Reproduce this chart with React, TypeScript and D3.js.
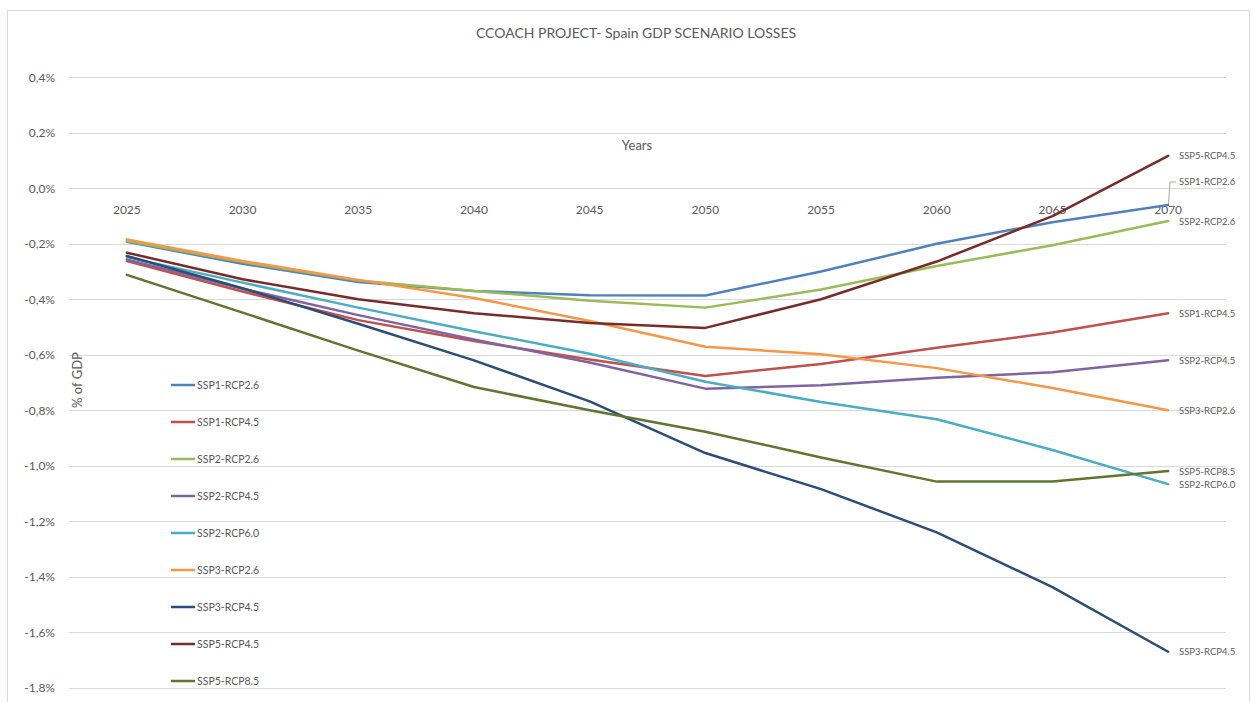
import React from "react";
import * as d3 from "d3";

const years = [2025, 2030, 2035, 2040, 2045, 2050, 2055, 2060, 2065, 2070];
const yTicks = [0.4, 0.2, 0.0, -0.2, -0.4, -0.6, -0.8, -1.0, -1.2, -1.4, -1.6, -1.8];

const seriesNames = [
  "SSP1-RCP2.6",
  "SSP1-RCP4.5",
  "SSP2-RCP2.6",
  "SSP2-RCP4.5",
  "SSP2-RCP6.0",
  "SSP3-RCP2.6",
  "SSP3-RCP4.5",
  "SSP5-RCP4.5",
  "SSP5-RCP8.5",
];

const ssp1rcp26 = [-0.193, -0.272, -0.338, -0.37, -0.385, -0.386, -0.3, -0.2, -0.122, -0.06];
const ssp1rcp45 = [-0.262, -0.372, -0.475, -0.55, -0.617, -0.676, -0.633, -0.575, -0.52, -0.45];
const ssp2rcp26 = [-0.19, -0.266, -0.332, -0.37, -0.405, -0.43, -0.365, -0.28, -0.205, -0.118];
const ssp2rcp45 = [-0.256, -0.362, -0.457, -0.545, -0.628, -0.722, -0.71, -0.683, -0.663, -0.62];
const ssp2rcp60 = [-0.248, -0.34, -0.43, -0.515, -0.596, -0.697, -0.77, -0.832, -0.943, -1.066];
const ssp3rcp26 = [-0.184, -0.262, -0.33, -0.395, -0.478, -0.571, -0.598, -0.648, -0.72, -0.8];
const ssp3rcp45 = [-0.244, -0.36, -0.488, -0.62, -0.768, -0.954, -1.084, -1.24, -1.437, -1.67];
const ssp5rcp45 = [-0.232, -0.328, -0.4, -0.45, -0.485, -0.503, -0.4, -0.264, -0.1, 0.117];
const ssp5rcp85 = [-0.312, -0.448, -0.585, -0.716, -0.8, -0.877, -0.97, -1.057, -1.057, -1.019];

const seriesValues = [
  ssp1rcp26, ssp1rcp45, ssp2rcp26, ssp2rcp45, ssp2rcp60,
  ssp3rcp26, ssp3rcp45, ssp5rcp45, ssp5rcp85,
];

const colors = [
  "#4F81BD", "#C0504D", "#9BBB59", "#8064A2", "#4BACC6",
  "#F79646", "#2C4D75", "#772C2A", "#5F7530",
];

// label vertical offsets (px) for end labels
const labelDy = [-23, 0, 0, 0, 0, 0, 0, 0, 0];

const W = 1253;
const H = 702;
const TEXT = "#595959";
const FONT = "Lato, 'Open Sans', sans-serif";

export default function App() {
  const x = d3.scalePoint<number>().domain(years).range([69, 1226]).padding(0.5);
  const y = d3.scaleLinear().domain([-1.8, 0.4]).range([687.8, 77.3]);
  const line = d3
    .line<number>()
    .x((_, i) => x(years[i]) as number)
    .y((d) => y(d));
  const fmt = (v: number) => {
    const s = Math.abs(v).toFixed(1).replace(".", ",");
    return (v < -0.0001 ? "-" : "") + s + "%";
  };
  const lastX = x(years[years.length - 1]) as number;

  return (
    <svg
      width={W}
      height={H}
      style={{ position: "absolute", left: 0, top: 0, background: "#fff" }}
      fontFamily={FONT}
    >
      <rect x={7.5} y={10.5} width={1242} height={700} fill="#fff" stroke="#D9D9D9" strokeWidth={1} />
      <text x={636} y={32} textAnchor="middle" dominantBaseline="central" fontSize={14} fill={TEXT}>
        CCOACH PROJECT- Spain GDP SCENARIO LOSSES
      </text>
      {yTicks.map((t) => (
        <g key={t}>
          <line x1={69} x2={1226} y1={Math.round(y(t)) + 0.5} y2={Math.round(y(t)) + 0.5} stroke="#D9D9D9" strokeWidth={1} />
          <text x={55} y={y(t)} textAnchor="end" dominantBaseline="central" fontSize={12} fill={TEXT}>
            {fmt(t)}
          </text>
        </g>
      ))}
      {years.map((yr) => (
        <text key={yr} x={x(yr)} y={209} textAnchor="middle" dominantBaseline="central" fontSize={12} fill={TEXT}>
          {yr}
        </text>
      ))}
      <text x={637} y={145} textAnchor="middle" dominantBaseline="central" fontSize={13} fill={TEXT}>
        Years
      </text>
      <text
        transform={`translate(77,380) rotate(-90)`}
        textAnchor="middle"
        dominantBaseline="central"
        fontSize={13}
        fill={TEXT}
      >
        % of GDP
      </text>
      {seriesValues.map((vals, i) => (
        <path
          key={seriesNames[i]}
          d={line(vals) || ""}
          fill="none"
          stroke={colors[i]}
          strokeWidth={2.5}
          strokeLinejoin="round"
          strokeLinecap="round"
        />
      ))}
      {/* leader line for SSP1-RCP2.6 */}
      <polyline
        points={`1176,${y(ssp1rcp26[9]) + labelDy[0]} 1170,${y(ssp1rcp26[9]) + labelDy[0]} 1168.5,${y(ssp1rcp26[9]) - 1}`}
        fill="none"
        stroke="#A6A6A6"
        strokeWidth={1}
      />
      {seriesValues.map((vals, i) => (
        <text
          key={"lbl" + i}
          x={1179}
          y={y(vals[vals.length - 1]) + labelDy[i]}
          dominantBaseline="central"
          fontSize={9.5}
          fill={TEXT}
        >
          {seriesNames[i]}
        </text>
      ))}
      {seriesNames.map((n, i) => (
        <g key={"leg" + n}>
          <line x1={171} x2={195} y1={385 + i * 37} y2={385 + i * 37} stroke={colors[i]} strokeWidth={2.5} />
          <text x={197} y={385 + i * 37} dominantBaseline="central" fontSize={10.5} fill={TEXT}>
            {n}
          </text>
        </g>
      ))}
    </svg>
  );
}
